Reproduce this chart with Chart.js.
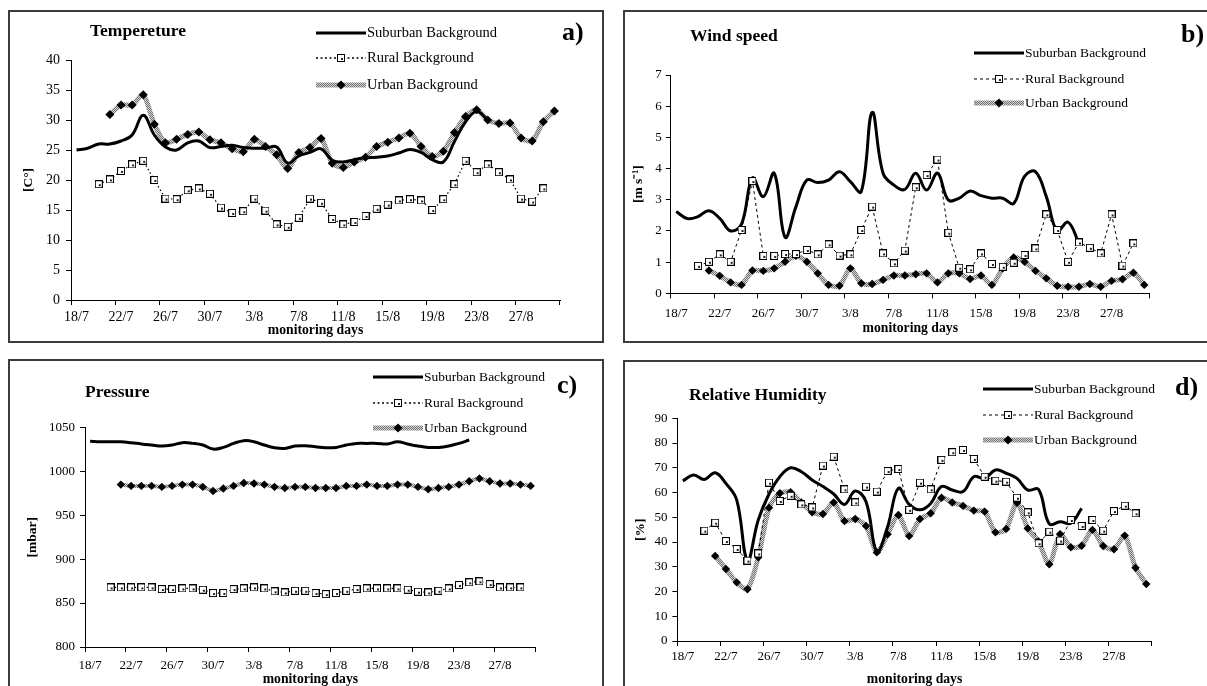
<!DOCTYPE html>
<html><head><meta charset="utf-8">
<script src="https://cdn.jsdelivr.net/npm/chart.js@4.4.1/dist/chart.umd.min.js"></script>
<style>
html,body{margin:0;padding:0;background:#fff;}
body{width:1207px;height:686px;overflow:hidden;position:relative;font-family:'Liberation Serif','Times New Roman',serif;color:#000}
.panel{position:absolute;border:2px solid #3c3c3c;box-sizing:border-box}
canvas{position:absolute}
.t{position:absolute;white-space:nowrap;line-height:1}
.ttl{font-weight:bold;font-size:17.5px}
.let{font-weight:bold;font-size:26px}
</style></head><body>
<div class="panel" style="left:8px;top:10px;width:596px;height:333px"></div>
<div class="panel" style="left:623px;top:10px;width:620px;height:333px"></div>
<div class="panel" style="left:8px;top:359px;width:596px;height:400px"></div>
<div class="panel" style="left:623px;top:360px;width:620px;height:400px"></div>

<canvas id="ca" width="592" height="328" style="left:10px;top:12px"></canvas>
<canvas id="cb" width="581" height="328" style="left:626px;top:12px"></canvas>
<canvas id="cc" width="592" height="330" style="left:10px;top:362px"></canvas>
<canvas id="cd" width="581" height="330" style="left:626px;top:363px"></canvas>

<div class="t ttl" style="left:90px;top:22.4px">Tempereture</div>
<div class="t ttl" style="left:690px;top:27.1px">Wind speed</div>
<div class="t ttl" style="left:85px;top:382.7px">Pressure</div>
<div class="t ttl" style="left:689px;top:386.4px">Relative Humidity</div>
<div class="t let" style="left:562px;top:18.7px">a)</div>
<div class="t let" style="left:1181px;top:20.7px">b)</div>
<div class="t let" style="left:557px;top:372.4px">c)</div>
<div class="t let" style="left:1175px;top:374px">d)</div>
<div id="legends"></div>

<script>
// ---------- data ----------
const days = ["18/7","19/7","20/7","21/7","22/7","23/7","24/7","25/7","26/7","27/7","28/7","29/7","30/7","31/7",
  "1/8","2/8","3/8","4/8","5/8","6/8","7/8","8/8","9/8","10/8","11/8","12/8","13/8","14/8","15/8","16/8",
  "17/8","18/8","19/8","20/8","21/8","22/8","23/8","24/8","25/8","26/8","27/8","28/8","29/8","30/8"];
const seriesNames = ["Suburban Background","Rural Background","Urban Background"];

const tempSuburban = [25.0,25.3,26.0,26.0,26.5,27.5,30.8,27.5,25.5,25.0,26.2,26.5,25.4,25.6,25.8,25.4,25.3,25.3,25.5,22.8,24.0,24.6,25.2,23.3,23.0,23.4,23.7,23.8,24.0,24.5,25.1,24.6,23.4,23.0,26.4,29.7,31.4,30.0];
const tempRural = [null,null,19.3,20.1,21.5,22.6,23.2,20.0,16.9,16.8,18.3,18.6,17.7,15.4,14.5,14.8,16.9,14.9,12.6,12.2,13.7,16.9,16.2,13.5,12.6,13.0,14.0,15.2,15.9,16.6,16.8,16.6,15.0,16.8,19.3,23.2,21.3,22.6,21.3,20.1,16.9,16.4,18.6];
const tempUrban = [null,null,null,30.9,32.5,32.5,34.2,29.3,26.2,26.8,27.6,28.0,26.7,26.2,25.2,24.7,26.8,25.6,24.2,21.9,24.6,25.4,26.9,22.8,22.1,23.0,23.8,25.6,26.3,27.0,27.8,25.6,23.9,24.8,27.9,30.6,31.7,30.0,29.4,29.5,27.0,26.5,29.7,31.5];

const windSuburban = [2.62,2.4,2.46,2.65,2.4,2.0,2.22,3.7,3.1,3.85,1.8,2.78,3.63,3.55,3.63,3.9,3.58,3.26,5.8,3.85,3.47,3.33,3.85,3.31,3.85,2.99,3.05,3.28,3.13,3.05,3.05,2.88,3.75,3.9,3.1,2.0,2.28,1.6];
const windRural = [null,null,0.88,1.01,1.25,1.01,2.03,3.6,1.2,1.2,1.26,1.26,1.39,1.25,1.57,1.21,1.25,2.03,2.78,1.28,0.96,1.37,3.4,3.79,4.29,1.94,0.82,0.77,1.28,0.94,0.85,0.98,1.23,1.44,2.53,2.03,1.01,1.63,1.46,1.28,2.53,0.89,1.6];
const windUrban = [null,null,null,0.73,0.56,0.35,0.27,0.73,0.72,0.8,1.01,1.2,1.01,0.64,0.27,0.24,0.8,0.32,0.3,0.43,0.57,0.57,0.61,0.64,0.35,0.64,0.64,0.46,0.57,0.27,0.8,1.15,1.01,0.72,0.48,0.24,0.21,0.21,0.3,0.21,0.4,0.45,0.66,0.27];

const pressSuburban = [1034,1033.6,1033.6,1033.6,1032.5,1031,1029.8,1028.7,1029.8,1032.5,1031.7,1029.8,1025.2,1027.1,1031.7,1034.8,1033.6,1029.8,1026.8,1026,1028.7,1029,1027.9,1026.8,1027.1,1029.8,1031.7,1031.7,1031.7,1031,1033.6,1031,1028.7,1027.1,1027.1,1028.7,1031.7,1035.5];
const pressRural = [null,null,867.8,867.8,867.8,867.8,867.8,865.9,865.9,866.7,866.7,865.2,861.4,861.4,865.9,866.7,867.8,866.7,863.3,862.1,864,864,861.4,860.2,861.4,864,865.9,866.7,866.7,866.7,866.7,865.2,862.9,862.1,864,866.7,870.5,873.6,874.7,871.6,867.8,867.8,867.8];
const pressUrban = [null,null,null,984.8,983.3,983.3,983.3,982.2,983.3,984.8,984.8,982.2,977.6,980.3,983.3,986.7,986,984.8,982.2,981,982.2,982.2,981,981,981,983.3,983.3,984.8,983.3,983.3,984.8,984.8,982.2,979.5,981,982.2,984.8,988.6,991.7,988.6,986,986,984.8,983.3];

const rhSuburban = [64.7,67.1,65.3,68,63.7,57,32.7,48.9,59.4,66.4,70,68.4,65.1,62.4,59.4,55.2,60.6,56.3,36.1,46.2,61.7,55.2,53,55.6,62.4,61,60.4,66.4,65.7,69.1,67.8,65.7,61,61.3,47.3,48.2,47.6,53.6];
const rhRural = [null,null,44.6,47.8,40.4,37.2,32.5,35.4,64,56.6,58.7,55.2,54,70.9,74.5,61.3,56,62.4,60.4,68.7,69.5,53,64,61.3,73.2,76.3,77.2,73.6,66.4,64.8,64.4,57.9,52,39.5,44.2,40.6,48.9,46.5,48.9,44.6,52.5,54.7,51.6];
const rhUrban = [null,null,null,34.4,29.1,23.7,20.9,33.8,53.9,59.7,60.1,56,52,51.3,56,48.5,49.3,46.5,35.8,43.1,50.9,42.4,49.3,51.6,57.9,56,54.6,52.7,52.3,43.9,45.3,55.9,45.5,40.2,31,43.2,37.9,38.5,44.9,38.4,37.1,42.6,29.6,23];

const labelEvery = 4;

// ---------- styling helpers ----------
const FONT = "'Liberation Serif','Times New Roman',serif";
Chart.defaults.font.family = FONT;
Chart.defaults.color = '#000';

function patternCanvas(){
  const c = document.createElement('canvas'); c.width = 2; c.height = 2;
  const g = c.getContext('2d');
  g.fillStyle = '#d6d6d6'; g.fillRect(0,0,2,2);
  g.fillStyle = '#707070'; g.fillRect(0,0,1,1); g.fillRect(1,1,1,1);
  return c;
}
const PAT = patternCanvas();
function squareMarker(size){
  const c = document.createElement('canvas'); c.width = size; c.height = size;
  const g = c.getContext('2d');
  g.fillStyle = '#fff'; g.fillRect(0,0,size,size);
  g.strokeStyle = '#000'; g.lineWidth = 1; g.strokeRect(0.5,0.5,size-1,size-1);
  g.fillStyle = '#222'; g.fillRect(Math.floor(size/2), Math.floor(size/2), 2, 2);
  return c;
}
const SQ = squareMarker(8);

function makeChart(p){
  const canvas = document.getElementById(p.id);
  const ctx = canvas.getContext('2d');
  const pat = ctx.createPattern(PAT,'repeat');
  return new Chart(ctx, {
    type:'line',
    data:{labels:days, datasets:[
      {label:seriesNames[0], data:p.sub, borderColor:'#000', borderWidth:3, tension:0.4, pointRadius:0, pointHitRadius:0, order:1},
      {label:seriesNames[1], data:p.rur, borderColor:'#000', borderWidth:p.rurW, borderDash:p.dash, tension:0, pointStyle:SQ, pointRadius:4, order:0},
      {label:seriesNames[2], data:p.urb, borderColor:pat, borderWidth:p.urbW, tension:0.25, pointStyle:'rectRot', pointRadius:p.dia, pointBackgroundColor:'#000', pointBorderColor:'#000', pointBorderWidth:0, order:2}
    ]},
    options:{
      responsive:false, animation:false, devicePixelRatio:1, events:[],
      layout:{padding:{left:0, top:p.top, right:p.right, bottom:0}},
      plugins:{legend:{display:false}, tooltip:{enabled:false}},
      scales:{
        x:{type:'category', offset:true,
          grid:{offset:true, drawOnChartArea:false, drawTicks:true, tickLength:5, lineWidth:1,
            color:(c)=> (c.index===undefined || c.index % labelEvery === 0) ? '#000' : 'rgba(0,0,0,0)'},
          border:{display:true, color:'#000', width:1},
          ticks:{autoSkip:false, maxRotation:0, minRotation:0, padding:p.xPad, color:'#000', font:{size:p.tick},
            callback:(v,i)=> i % labelEvery === 0 ? days[i] : ''},
          title:{display:true, text:'monitoring days', color:'#000', font:{size:13.7, weight:'bold', lineHeight:1.2}, padding:{top:0,bottom:p.xtPad}},
          afterFit:(s)=>{ s.height = p.xH; }
        },
        y:{type:'linear', min:p.min, max:p.max,
          grid:{drawOnChartArea:false, drawTicks:true, tickLength:5, color:'#000', lineWidth:1},
          border:{display:true, color:'#000', width:1},
          ticks:{stepSize:p.step, padding:p.yPad, color:'#000', font:{size:p.tick}, callback:(v)=>String(v)},
          title:{display:true, text:p.ytitle, color:'#000', font:{size:13.5, weight:'bold', lineHeight:1.2}, padding:{top:p.ytPad,bottom:0}},
          afterFit:(s)=>{ s.width = p.yW; }
        }
      }
    }
  });
}

makeChart({id:'ca', sub:tempSuburban, rur:tempRural, urb:tempUrban, min:0, max:40, step:5, ytitle:'[C°]',
  top:48, right:42, yW:61, xH:40, xPad:4, xtPad:1.8, ytPad:10.6, yPad:6, tick:14, rurW:1.2, dash:[1.5,2.5], urbW:5, dia:4.5});
makeChart({id:'cb', sub:windSuburban, rur:windRural, urb:windUrban, min:0, max:7, step:1, ytitle:'[m s\u207B\u00B9]',
  top:63, right:57.3, yW:44.8, xH:46.7, xPad:7, xtPad:3.8, ytPad:4.6, yPad:4, tick:13, rurW:1, dash:[3,3], urbW:5, dia:4.2});
makeChart({id:'cc', sub:pressSuburban, rur:pressRural, urb:pressUrban, min:800, max:1050, step:50, ytitle:'[mbar]',
  top:65.3, right:66.2, yW:75, xH:45, xPad:5.5, xtPad:4.5, ytPad:14.4, yPad:5, tick:13, rurW:1.2, dash:[1.5,2.5], urbW:4, dia:4.2});
makeChart({id:'cd', sub:rhSuburban, rur:rhRural, urb:rhUrban, min:0, max:90, step:10, ytitle:'[%]',
  top:55.3, right:55.3, yW:51.4, xH:52, xPad:3, xtPad:5.5, ytPad:6.5, yPad:5, tick:13, rurW:1, dash:[3,3], urbW:5, dia:4.2});

// ---------- legends ----------
const legendSpecs = [
  {x:367, rows:[33.3,58.3,85], fs:14.5, dash:[2,2.5], rw:1.5},
  {x:1025, rows:[53.3,79,103.3], fs:13.5, dash:[3,3], rw:1},
  {x:424, rows:[377.3,403.3,428.3], fs:13.5, dash:[2,2.5], rw:1.5},
  {x:1034, rows:[389,415,440], fs:13.5, dash:[3,3], rw:1}
];
const host = document.getElementById('legends');
legendSpecs.forEach(spec=>{
  spec.rows.forEach((cy,k)=>{
    const t = document.createElement('div');
    t.className='t'; t.style.fontSize = spec.fs+'px';
    t.style.left = spec.x+'px'; t.style.top = (cy - 0.55*spec.fs)+'px';
    t.textContent = seriesNames[k];
    host.appendChild(t);
    const c = document.createElement('canvas');
    c.width = 50; c.height = 14;
    c.style.left = (spec.x-51)+'px'; c.style.top = (cy-7)+'px';
    host.appendChild(c);
    const g = c.getContext('2d');
    g.beginPath(); g.moveTo(0,7); g.lineTo(50,7);
    if(k===0){ g.strokeStyle='#000'; g.lineWidth=3; g.stroke(); }
    if(k===1){ g.strokeStyle='#000'; g.lineWidth=spec.rw; g.setLineDash(spec.dash); g.stroke(); g.setLineDash([]);
      g.drawImage(SQ, 25-SQ.width/2, 7-SQ.height/2); }
    if(k===2){ g.strokeStyle=g.createPattern(PAT,'repeat'); g.lineWidth=5; g.stroke();
      g.fillStyle='#000'; g.beginPath(); g.moveTo(25,2.5); g.lineTo(29.5,7); g.lineTo(25,11.5); g.lineTo(20.5,7); g.closePath(); g.fill(); }
  });
});
</script>
</body></html>
